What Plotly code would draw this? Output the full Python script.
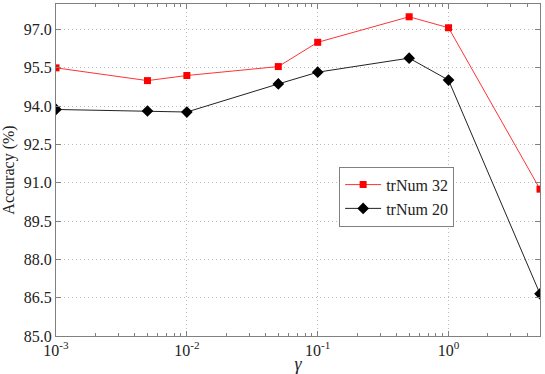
import plotly.graph_objects as go

gamma = [0.001, 0.005, 0.01, 0.05, 0.1, 0.5, 1, 5]
tr32 = [95.5, 95.0, 95.2, 95.55, 96.5, 97.5, 97.07, 90.75]
tr20 = [93.87, 93.81, 93.77, 94.87, 95.33, 95.88, 95.02, 86.65]

yticks = [85.0, 86.5, 88.0, 89.5, 91.0, 92.5, 94.0, 95.5, 97.0]
xticks = [0.001, 0.01, 0.1, 1]
xlabels = ["10<sup>-3</sup>", "10<sup>-2</sup>", "10<sup>-1</sup>", "10<sup>0</sup>"]
# minor tick positions on the log axis (2..9 in every decade)
xminor = [m * d for d in [0.001, 0.01, 0.1, 1] for m in range(2, 10) if m * d <= 5]

SERIF = "Liberation Serif"

fig = go.Figure()
fig.add_trace(go.Scatter(x=gamma, y=tr32, name="trNum 32", mode="lines+markers",
                         line=dict(color="#ff3333", width=1),
                         marker=dict(symbol="square", size=7, color="#ff0000")))
fig.add_trace(go.Scatter(x=gamma, y=tr20, name="trNum 20", mode="lines+markers",
                         line=dict(color="#222222", width=1),
                         marker=dict(symbol="diamond", size=9, color="#000000")))

axis_common = dict(showline=True, linecolor="#808080", linewidth=1, mirror="ticks",
                   ticks="inside", ticklen=5, tickcolor="#808080",
                   showgrid=True, gridcolor="#bdbdbd", griddash="1px,3px", gridwidth=1,
                   zeroline=False, automargin=False,
                   tickfont=dict(family=SERIF, size=16, color="#222"))

fig.update_xaxes(type="log", range=[-3, 0.69897], tickvals=xticks, ticktext=xlabels,
                 minor=dict(tickvals=xminor, ticks="inside", ticklen=3,
                            tickcolor="#808080", showgrid=False),
                 title=dict(text="<i>γ</i>", font=dict(family=SERIF, size=18, color="#222"),
                            standoff=0),
                 **axis_common)
fig.update_yaxes(range=[85, 98], tickvals=yticks, tickformat=".1f",
                 title=dict(text="Accuracy (%)", font=dict(family=SERIF, size=16, color="#222"),
                            standoff=9),
                 **axis_common)

fig.update_layout(
    width=545, height=374,
    margin=dict(l=56, r=5, t=4, b=38),
    paper_bgcolor="white", plot_bgcolor="white",
    font=dict(family=SERIF, color="#222"),
    legend=dict(x=0.585, y=0.51, xanchor="left", yanchor="top",
                bgcolor="white", bordercolor="#808080", borderwidth=1,
                font=dict(family=SERIF, size=16), tracegroupgap=0, itemwidth=36),
    showlegend=True,
)

fig.write_html("out.html", config={"displayModeBar": False},
               post_script="document.body.style.margin='0';")
